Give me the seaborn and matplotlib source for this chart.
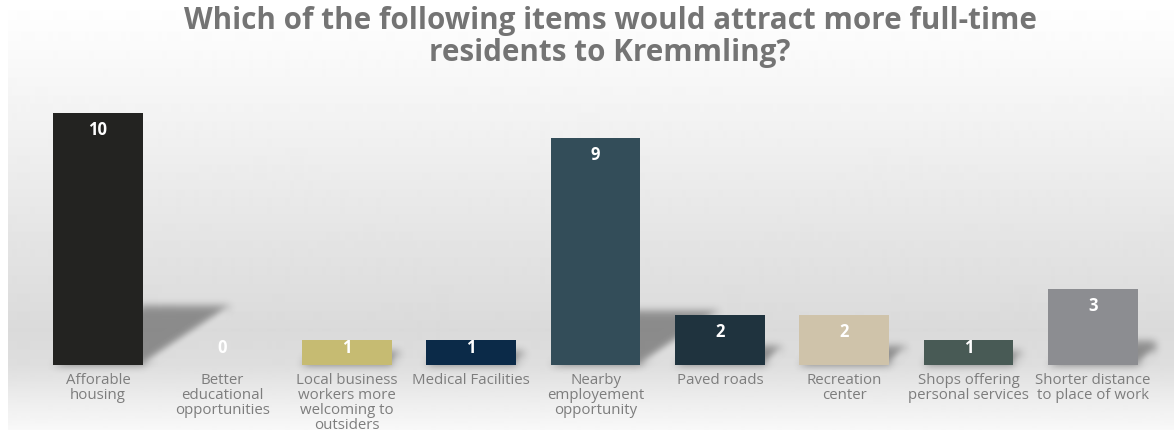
import numpy as np
import pandas as pd
import matplotlib
matplotlib.use("Agg")
import matplotlib.pyplot as plt
import seaborn as sns
from matplotlib.patches import Polygon

# ---- data -------------------------------------------------------------
categories = [
    "Afforable\nhousing",
    "Better\neducational\nopportunities",
    "Local business\nworkers more\nwelcoming to\noutsiders",
    "Medical Facilities",
    "Nearby\nemployement\nopportunity",
    "Paved roads",
    "Recreation\ncenter",
    "Shops offering\npersonal services",
    "Shorter distance\nto place of work",
]
counts = [10, 0, 1, 1, 9, 2, 2, 1, 3]
bar_colors = ["#232321", "#ffffff", "#c6bb72", "#0b2a48", "#334d59",
              "#1f333e", "#cfc3aa", "#485a55", "#8c8d91"]
title = "Which of the following items would attract more full-time\nresidents to Kremmling?"

W, H = 1174, 433
sns.set_theme(style="white")
plt.rcParams["font.family"] = ["Open Sans", "DejaVu Sans"]

fig = plt.figure(figsize=(W / 100, H / 100), dpi=100)
fig.patch.set_facecolor("white")

# ---- soft vertical gradient panel ---------------------------------------
bg = fig.add_axes([8 / W, 3 / H, (W - 8) / W, 430 / H])
rows = np.arange(430)
shade = np.interp(rows, [0, 40, 120, 250, 330, 365, 400, 430],
                  [1.0, 0.985, 0.95, 0.89, 0.855, 0.87, 0.93, 0.975])
bg.imshow(shade[:, None], aspect="auto", cmap="gray", vmin=0, vmax=1,
          extent=[0, 1, 0, 1], origin="upper", interpolation="bilinear")
bg.axis("off")

# ---- bars ---------------------------------------------------------------
left_px, right_px, base_px, top_px = 35.8, 1155.2, 365, 100
ax = fig.add_axes([left_px / W, (H - base_px) / H,
                   (right_px - left_px) / W, (base_px - top_px) / H])
ax.patch.set_alpha(0)

df = pd.DataFrame({"item": categories, "count": counts})
sns.barplot(data=df, x="item", y="count", hue="item", palette=bar_colors,
            width=0.72, saturation=1, legend=False, ax=ax, zorder=3,
            linewidth=0, edgecolor="none")
ax.set_ylim(0, 10.5)
ax.set_xlim(-0.5, len(categories) - 0.5)

px_y = (base_px - top_px) / 10.5
px_x = (right_px - left_px) / len(categories)


def blur(im, dpi, r=4):
    pad = r * 3
    p = np.pad(im, [(pad, pad), (pad, pad), (0, 0)])
    k = np.exp(-0.5 * (np.arange(-pad, pad + 1) / r) ** 2)
    k /= k.sum()
    out = np.zeros_like(p)
    for i, w in zip(range(-pad, pad + 1), k):
        out += w * np.roll(p, i, axis=0)
    p = out
    out = np.zeros_like(p)
    for i, w in zip(range(-pad, pad + 1), k):
        out += w * np.roll(p, i, axis=1)
    return out, -pad, -pad


# floor shadows cast to the right of each bar
half = 0.36
for i, v in enumerate(counts):
    if v <= 0:
        continue
    hp = v * px_y
    sh = (8 + 0.2 * hp) / px_y
    dx = (0.35 * hp) / px_x
    poly = Polygon([(i - half, 0), (i + half, 0), (i + half + dx, sh),
                    (i - half + dx, sh)], closed=True,
                   facecolor="#3c3c3c", edgecolor="none", alpha=0.5,
                   zorder=2)
    poly.set_agg_filter(blur)
    ax.add_patch(poly)

# value labels inside the bars
off = 17 / px_y
for i, v in enumerate(counts):
    ax.text(i, max(v - off, off), str(v), ha="center", va="center",
            color="white", fontsize=12, fontweight="bold", zorder=5)

for s in ax.spines.values():
    s.set_visible(False)
ax.set_yticks([])
ax.set_xlabel("")
ax.set_ylabel("")
ax.tick_params(axis="x", length=0, pad=6, labelsize=10.8, labelcolor="#7d7d7d")
for t in ax.get_xticklabels():
    t.set_linespacing(1.0)

fig.text(610 / W, 1 - 37 / H, title, ha="center", va="center",
         fontsize=21.3, fontweight="bold", color="#747474", linespacing=1.12)

fig.savefig("out.png", dpi=100)
